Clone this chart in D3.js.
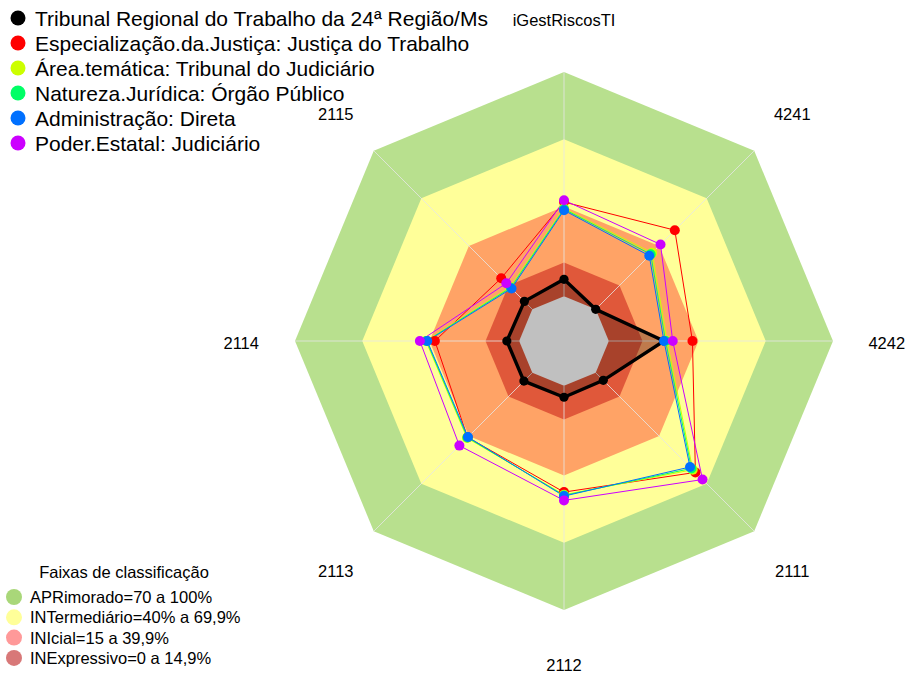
<!DOCTYPE html>
<html>
<head>
<meta charset="utf-8">
<script src="https://cdn.jsdelivr.net/npm/d3@7"></script>
<style>
  html, body { margin: 0; padding: 0; background: #fff; }
  svg { display: block; font-family: "Liberation Sans", Arial, sans-serif; }
</style>
</head>
<body>
<svg id="chart" width="905" height="675"></svg>
<script>
// Axes, listed from the top going counter-clockwise
const categories = ["iGestRiscosTI", "2115", "2114", "2113", "2112", "2111", "4242", "4241"];

// Series (percent scores per axis)
const seriesNames = [
  "Tribunal Regional do Trabalho da 24ª Região/Ms",
  "Especialização.da.Justiça: Justiça do Trabalho",
  "Área.temática: Tribunal do Judiciário",
  "Natureza.Jurídica: Órgão Público",
  "Administração: Direta",
  "Poder.Estatal: Judiciário"
];
const trt24     = [7.5, 5.0, 5.5, 5.3, 5.1, 4.8, 24.6, 0.0];
const especial  = [42.0, 19.6, 37.6, 40.8, 47.4, 62.9, 37.3, 49.9];
const areaTem   = [39.2, 14.0, 41.6, 41.2, 48.6, 61.2, 26.0, 35.6];
const natureza  = [38.8, 13.6, 41.3, 40.9, 48.9, 60.4, 25.3, 34.7];
const admin     = [38.3, 13.1, 41.0, 40.6, 49.2, 59.5, 24.6, 33.8];
const poder     = [42.8, 16.4, 44.3, 46.0, 51.1, 67.4, 28.5, 40.9];
const seriesValues = [trt24, especial, areaTem, natureza, admin, poder];
const seriesColors = ["#000000", "#ff0000", "#ccff00", "#00ff66", "#0070ff", "#cc00ff"];

// Classification bands (upper bound of each band, percent)
const bandNames = ["APRimorado=70 a 100%", "INTermediário=40% a 69,9%", "INIcial=15 a 39,9%", "INExpressivo=0 a 14,9%"];
const bandTops = [100, 70, 40, 15];
const bandColors = ["#b8e08e", "#ffff99", "#ffa366", "#e0583a"];
const bandLegendColors = ["#a9d779", "#ffff99", "#ff9999", "#d87878"];

const svg = d3.select("#chart");
const cx = 564, cy = 341, R = 269;
const n = categories.length;

// radial scale with a hollow centre of R/6
const r = d3.scaleLinear().domain([0, 100]).range([R / 6, R]);
const angle = i => Math.PI / 2 + i * 2 * Math.PI / n;
const px = (i, rad) => cx + rad * Math.cos(angle(i));
const py = (i, rad) => cy - rad * Math.sin(angle(i));

const ringPath = rad => d3.line()(d3.range(n).map(i => [px(i, rad), py(i, rad)])) + "Z";

const g = svg.append("g");

// bands, outermost first
g.selectAll("path.band")
  .data(bandTops)
  .join("path")
  .attr("class", "band")
  .attr("d", d => ringPath(r(d)))
  .attr("fill", (d, i) => bandColors[i]);

// spokes
g.selectAll("line.spoke")
  .data(d3.range(n))
  .join("line")
  .attr("class", "spoke")
  .attr("x1", i => px(i, r(0))).attr("y1", i => py(i, r(0)))
  .attr("x2", i => px(i, R)).attr("y2", i => py(i, R))
  .attr("stroke", "#e6e6e6").attr("stroke-opacity", 0.8).attr("stroke-width", 1);

const polyPath = vals => d3.line()(vals.map((v, i) => [px(i, r(v)), py(i, r(v))])) + "Z";

// shaded area of the first series
g.append("path")
  .attr("d", polyPath(trt24))
  .attr("fill", "#000").attr("fill-opacity", 0.25);

// hollow centre
g.append("path").attr("d", ringPath(r(0))).attr("fill", "#c0c0c0");

// series outlines
seriesValues.forEach((vals, s) => {
  g.append("path")
    .attr("d", polyPath(vals))
    .attr("fill", "none")
    .attr("stroke", seriesColors[s])
    .attr("stroke-width", s === 0 ? 3.4 : 1)
    .attr("stroke-linejoin", "miter");
});
// series points
seriesValues.forEach((vals, s) => {
  g.selectAll(null)
    .data(vals)
    .join("circle")
    .attr("cx", (v, i) => px(i, r(v)))
    .attr("cy", (v, i) => py(i, r(v)))
    .attr("r", s === 0 ? 4.6 : 5)
    .attr("fill", seriesColors[s]);
});

// axis labels
g.selectAll("text.axis")
  .data(categories)
  .join("text")
  .attr("class", "axis")
  .attr("x", (d, i) => px(i, R * 1.2))
  .attr("y", (d, i) => py(i, R * 1.2) + 1.5)
  .attr("text-anchor", "middle")
  .attr("dominant-baseline", "central")
  .attr("font-size", 16.5)
  .attr("fill", "#000")
  .text(d => d);

// series legend
const leg = svg.append("g");
seriesNames.forEach((name, s) => {
  const y = 18 + s * 25;
  leg.append("circle").attr("cx", 18).attr("cy", y).attr("r", 7.5).attr("fill", seriesColors[s]);
  leg.append("text").attr("x", 35).attr("y", y).attr("dominant-baseline", "central")
    .attr("font-size", 21).attr("fill", "#000").text(name);
});

// band legend
const bl = svg.append("g");
bl.append("text").attr("x", 124).attr("y", 572).attr("text-anchor", "middle")
  .attr("dominant-baseline", "central").attr("font-size", 16.5).text("Faixas de classificação");
bandNames.forEach((name, i) => {
  const y = 597 + i * 20.3;
  bl.append("circle").attr("cx", 14).attr("cy", y).attr("r", 8).attr("fill", bandLegendColors[i]);
  bl.append("text").attr("x", 30).attr("y", y).attr("dominant-baseline", "central")
    .attr("font-size", 16.5).text(name);
});
</script>
</body>
</html>
